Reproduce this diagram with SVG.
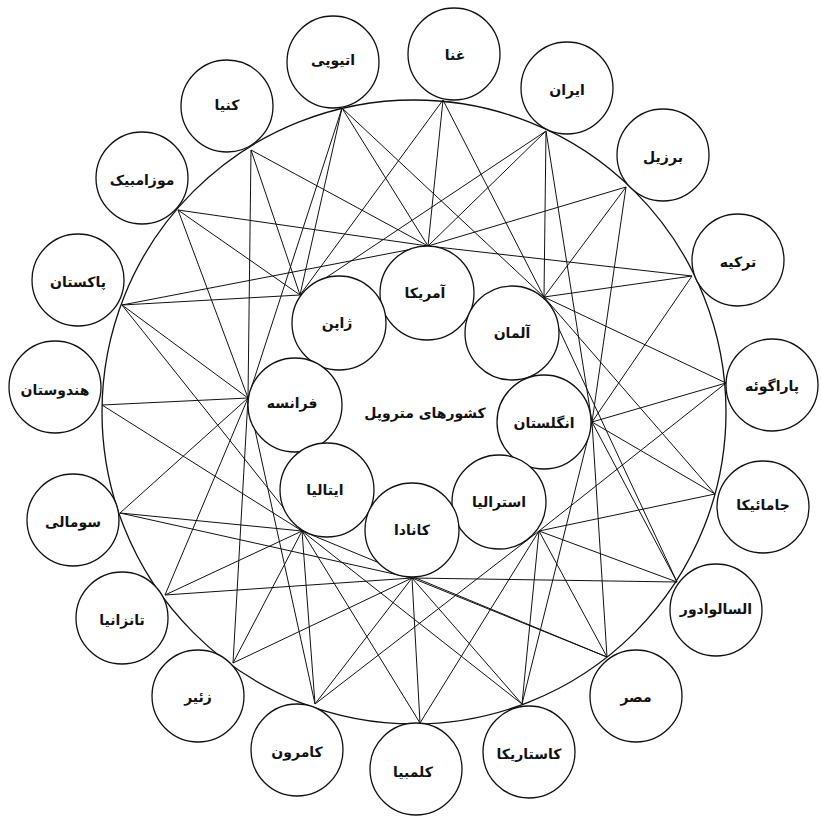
<svg xmlns="http://www.w3.org/2000/svg" width="821" height="819" viewBox="0 0 821 819">
<style>
.bg{fill:#fff}
.ring{fill:none;stroke:#111;stroke-width:1.3}
.e line{stroke:#111;stroke-width:1}
.n circle{fill:#fff;stroke:#111;stroke-width:1.3}
.n text{font-family:"DejaVu Sans","Noto Sans",sans-serif;font-weight:bold;font-size:14px;fill:#111;text-anchor:middle;dominant-baseline:central}
</style>
<rect class="bg" x="0" y="0" width="821" height="819"/>
<circle class="ring" cx="414" cy="412" r="312"/>
<g id="connectors" class="e">
<line x1="443" y1="100" x2="428" y2="246"/>
<line x1="443" y1="100" x2="300" y2="295"/>
<line x1="443" y1="100" x2="544" y2="297"/>
<line x1="546" y1="131" x2="428" y2="246"/>
<line x1="546" y1="131" x2="300" y2="295"/>
<line x1="546" y1="131" x2="544" y2="297"/>
<line x1="546" y1="131" x2="592" y2="422"/>
<line x1="626" y1="187" x2="428" y2="246"/>
<line x1="626" y1="187" x2="544" y2="297"/>
<line x1="626" y1="187" x2="592" y2="422"/>
<line x1="692" y1="276" x2="428" y2="246"/>
<line x1="692" y1="276" x2="544" y2="297"/>
<line x1="692" y1="276" x2="592" y2="422"/>
<line x1="726" y1="383" x2="544" y2="297"/>
<line x1="726" y1="383" x2="592" y2="422"/>
<line x1="726" y1="383" x2="539" y2="531"/>
<line x1="715" y1="494" x2="544" y2="297"/>
<line x1="715" y1="494" x2="592" y2="422"/>
<line x1="715" y1="494" x2="539" y2="531"/>
<line x1="677" y1="582" x2="544" y2="297"/>
<line x1="677" y1="582" x2="592" y2="422"/>
<line x1="677" y1="582" x2="539" y2="531"/>
<line x1="677" y1="582" x2="412" y2="578"/>
<line x1="607" y1="657" x2="592" y2="422"/>
<line x1="607" y1="657" x2="539" y2="531"/>
<line x1="607" y1="657" x2="412" y2="578"/>
<line x1="607" y1="657" x2="302" y2="531"/>
<line x1="522" y1="704" x2="592" y2="422"/>
<line x1="522" y1="704" x2="539" y2="531"/>
<line x1="522" y1="704" x2="412" y2="578"/>
<line x1="522" y1="704" x2="302" y2="531"/>
<line x1="420" y1="723" x2="302" y2="531"/>
<line x1="420" y1="723" x2="412" y2="578"/>
<line x1="420" y1="723" x2="539" y2="531"/>
<line x1="315" y1="704" x2="248" y2="398"/>
<line x1="315" y1="704" x2="302" y2="531"/>
<line x1="315" y1="704" x2="412" y2="578"/>
<line x1="315" y1="704" x2="539" y2="531"/>
<line x1="233" y1="663" x2="248" y2="398"/>
<line x1="233" y1="663" x2="302" y2="531"/>
<line x1="233" y1="663" x2="412" y2="578"/>
<line x1="165" y1="595" x2="248" y2="398"/>
<line x1="165" y1="595" x2="302" y2="531"/>
<line x1="165" y1="595" x2="412" y2="578"/>
<line x1="120" y1="513" x2="248" y2="398"/>
<line x1="120" y1="513" x2="302" y2="531"/>
<line x1="120" y1="513" x2="412" y2="578"/>
<line x1="102" y1="405" x2="248" y2="398"/>
<line x1="102" y1="405" x2="302" y2="531"/>
<line x1="122" y1="305" x2="428" y2="246"/>
<line x1="122" y1="305" x2="300" y2="295"/>
<line x1="122" y1="305" x2="248" y2="398"/>
<line x1="122" y1="305" x2="302" y2="531"/>
<line x1="178" y1="210" x2="428" y2="246"/>
<line x1="178" y1="210" x2="300" y2="295"/>
<line x1="178" y1="210" x2="248" y2="398"/>
<line x1="251" y1="150" x2="428" y2="246"/>
<line x1="251" y1="150" x2="300" y2="295"/>
<line x1="251" y1="150" x2="248" y2="398"/>
<line x1="342" y1="108" x2="428" y2="246"/>
<line x1="342" y1="108" x2="300" y2="295"/>
<line x1="342" y1="108" x2="248" y2="398"/>
<line x1="342" y1="108" x2="544" y2="297"/>
</g>
<g id="ghana" class="n"><circle cx="454" cy="54" r="46"/><text x="455" y="55">غنا</text></g>
<g id="iran" class="n"><circle cx="567" cy="88" r="46"/><text x="567" y="90">ایران</text></g>
<g id="brazil" class="n"><circle cx="663" cy="155" r="46"/><text x="663" y="157">برزیل</text></g>
<g id="turkey" class="n"><circle cx="738" cy="260" r="46"/><text x="738" y="262">ترکیه</text></g>
<g id="paraguay" class="n"><circle cx="772" cy="385" r="46"/><text x="772" y="386">پاراگوئه</text></g>
<g id="jamaica" class="n"><circle cx="763" cy="507" r="46"/><text x="763" y="505">جامائیکا</text></g>
<g id="salvador" class="n"><circle cx="716" cy="610" r="46"/><text x="716" y="609">السالوادور</text></g>
<g id="egypt" class="n"><circle cx="636" cy="696" r="46"/><text x="636" y="697">مصر</text></g>
<g id="costarica" class="n"><circle cx="529" cy="752" r="46"/><text x="529" y="754">کاستاریکا</text></g>
<g id="colombia" class="n"><circle cx="416" cy="769" r="46"/><text x="413" y="772">کلمبیا</text></g>
<g id="cameroon" class="n"><circle cx="297" cy="750" r="46"/><text x="297" y="752">کامرون</text></g>
<g id="zaire" class="n"><circle cx="198" cy="696" r="46"/><text x="198" y="697">زئیر</text></g>
<g id="tanzania" class="n"><circle cx="122" cy="618" r="46"/><text x="122" y="620">تانزانیا</text></g>
<g id="somalia" class="n"><circle cx="73" cy="520" r="46"/><text x="73" y="522">سومالی</text></g>
<g id="india" class="n"><circle cx="55" cy="387" r="46"/><text x="55" y="390">هندوستان</text></g>
<g id="pakistan" class="n"><circle cx="78" cy="280" r="46"/><text x="78" y="282">پاکستان</text></g>
<g id="mozambique" class="n"><circle cx="142" cy="178" r="46"/><text x="142" y="180">موزامبیک</text></g>
<g id="kenya" class="n"><circle cx="227" cy="106" r="46"/><text x="227" y="105">کنیا</text></g>
<g id="ethiopia" class="n"><circle cx="333" cy="62" r="46"/><text x="333" y="60">اتیوپی</text></g>
<g id="america" class="n"><circle cx="427" cy="293" r="47"/><text x="425" y="293">آمریکا</text></g>
<g id="japan" class="n"><circle cx="339" cy="323" r="47"/><text x="337" y="323">ژاپن</text></g>
<g id="germany" class="n"><circle cx="512" cy="333" r="47"/><text x="512" y="333">آلمان</text></g>
<g id="france" class="n"><circle cx="295" cy="405" r="47"/><text x="292" y="403">فرانسه</text></g>
<g id="england" class="n"><circle cx="544" cy="422" r="47"/><text x="544" y="423">انگلستان</text></g>
<g id="italy" class="n"><circle cx="327" cy="490" r="47"/><text x="325" y="490">ایتالیا</text></g>
<g id="australia" class="n"><circle cx="499" cy="502" r="47"/><text x="499" y="502">استرالیا</text></g>
<g id="canada" class="n"><circle cx="412" cy="530" r="47"/><text x="412" y="530">کانادا</text></g>
<g id="center" class="n"><text x="425" y="413">کشورهای متروپل</text></g>
</svg>
